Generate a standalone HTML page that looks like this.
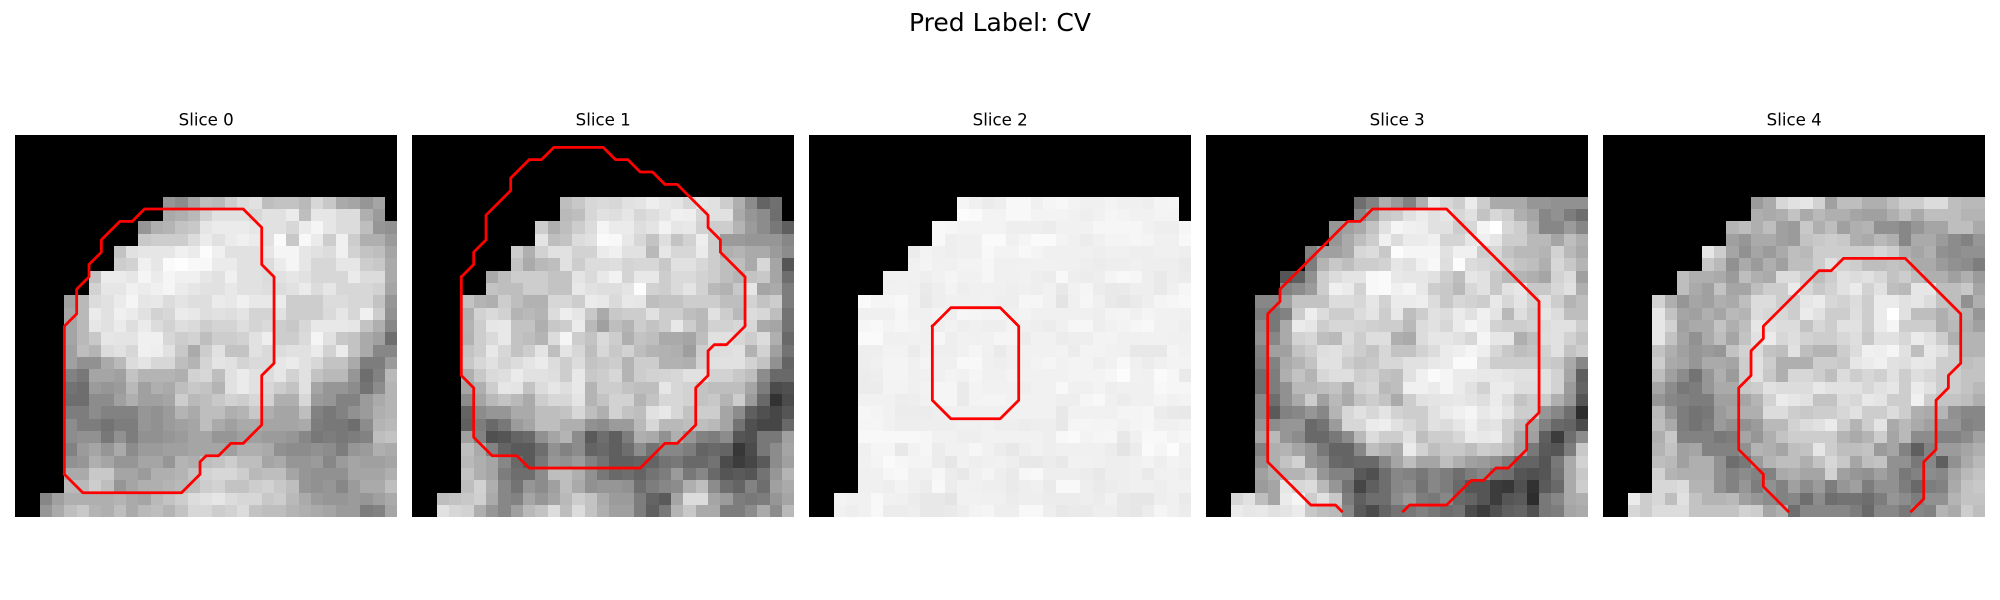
<!DOCTYPE html>
<html lang="en">
<head>
<meta charset="utf-8">
<title>Pred Label: CV</title>
<style>
html,body{margin:0;padding:0;background:#fff;width:2000px;height:600px;overflow:hidden}
svg{display:block}
text{font-family:"DejaVu Sans","Liberation Sans",sans-serif;fill:#000}
</style>
</head>
<body>
<svg id="figure" width="2000" height="600" viewBox="0 0 2000 600" xmlns="http://www.w3.org/2000/svg">
<rect x="0" y="0" width="2000" height="600" fill="#fff"/>
<text x="1000" y="31" font-size="25" text-anchor="middle">Pred Label: CV</text>
</svg>
<script>
// Each slice: rows of grey levels (0-255), aligned to the bottom-right corner of the 31x31 grid.
// Missing cells stay black; a 0 is a black cell.
const slice0 = [
[150,140,165,190,185,205,220,225,190,195,195,185,215,200,170,165,150,165,0],
[170,175,185,210,225,225,225,215,225,225,235,190,230,230,220,220,175,155,0],
[150,175,180,195,200,230,235,235,235,230,225,225,215,235,245,230,220,220,190,150,145],
[200,205,205,205,220,235,225,235,240,235,225,250,200,248,235,205,240,205,175,175,155],
[195,225,230,230,230,240,235,252,240,225,225,225,230,245,245,230,225,220,240,210,195,190,165],
[205,210,240,230,250,253,248,248,235,235,225,225,220,235,245,230,215,215,230,230,205,200,170],
[195,235,235,230,245,235,245,240,240,230,225,240,225,225,220,225,230,225,215,215,215,235,220,220,170],
[210,230,230,240,235,240,245,235,230,225,225,232,225,225,222,220,225,235,220,230,215,215,215,210,165],
[160,185,220,225,235,245,230,232,220,228,222,222,235,232,240,232,232,235,205,205,205,220,220,215,215,195,150],
[165,185,235,225,240,235,225,210,215,235,232,222,225,222,228,212,212,225,205,205,205,218,230,215,240,205,145],
[165,185,230,225,235,222,235,220,210,222,218,205,212,212,222,212,218,205,200,215,232,232,232,230,195,175,135],
[165,185,200,230,228,228,240,240,215,205,210,190,205,205,210,225,238,205,205,218,245,225,200,195,170,160,110],
[160,190,180,220,225,215,240,238,225,200,170,205,225,195,195,225,218,220,225,225,235,210,235,195,170,135,135],
[160,145,145,170,185,220,228,215,215,190,180,212,228,225,212,218,218,230,235,225,215,195,195,170,125,125,155],
[130,120,165,165,160,195,180,180,180,175,210,215,190,225,235,225,220,230,210,225,195,185,185,150,110,130,185],
[115,110,155,150,155,185,160,175,170,190,200,195,180,225,235,225,215,205,195,225,165,150,150,140,115,140,180],
[110,110,140,140,160,175,160,160,165,205,185,190,200,210,205,215,210,175,175,215,155,150,130,130,155,170,180],
[125,125,140,130,130,130,150,145,155,180,170,190,190,175,180,200,175,165,165,190,130,120,130,145,155,175,180],
[140,125,125,115,125,125,150,145,155,160,165,190,170,160,170,170,165,165,165,170,125,120,120,110,140,180,185],
[140,145,145,120,145,125,145,145,150,155,165,165,150,150,160,160,155,155,150,135,120,125,120,125,130,190,195],
[130,155,165,150,170,140,155,155,160,160,165,165,165,160,175,175,170,145,140,140,145,140,125,150,155,175,170],
[145,150,175,165,150,150,165,165,150,180,175,190,195,205,190,190,165,170,150,150,155,135,155,165,160,160,165],
[170,170,200,200,165,165,155,175,175,180,195,210,215,215,205,185,190,190,165,150,145,145,145,165,165,165,175],
[185,185,205,190,150,165,175,175,180,185,190,205,210,195,195,205,210,200,190,150,145,150,135,155,170,170,190],
[135,160,175,175,175,175,180,170,165,185,195,205,220,225,230,220,215,215,200,205,185,170,155,150,150,155,150,160,170],
[150,170,190,200,180,175,190,170,185,190,180,195,215,215,205,210,220,195,190,190,180,175,170,165,155,155,125,130,165]
];
const slice1 = [
[190,200,215,218,215,225,228,238,232,228,215,228,225,205,175,140,100,112,0],
[185,190,215,225,222,230,215,222,230,240,238,215,225,225,170,150,140,110,0],
[205,175,190,205,220,245,235,235,222,228,242,230,232,210,205,205,180,155,140,120,95],
[228,190,195,220,225,250,248,232,215,195,222,195,210,238,205,155,155,150,150,150,135],
[205,175,210,225,225,210,210,235,240,225,225,185,230,215,215,235,205,175,180,170,170,155,140],
[195,170,185,190,225,205,220,220,222,212,215,215,200,225,225,215,205,190,190,170,215,165,85],
[170,190,205,205,205,195,195,228,218,232,242,212,232,232,205,218,218,210,205,190,180,195,200,165,110],
[195,190,190,205,205,195,195,232,225,222,222,228,252,210,205,218,228,210,185,178,200,230,165,170,125],
[195,180,175,205,190,178,178,215,215,205,235,232,218,232,230,190,195,195,205,205,205,190,190,210,195,205,125],
[175,210,218,210,180,185,180,220,238,230,200,170,200,205,205,225,205,205,190,185,225,205,185,220,215,190,115],
[180,205,230,232,195,195,175,200,205,235,185,160,190,180,205,195,205,232,205,185,210,210,215,215,170,165,115],
[178,205,218,232,195,190,180,220,245,205,195,218,205,175,195,190,170,170,165,190,225,225,215,205,220,175,105],
[195,205,232,215,195,205,228,190,228,215,190,215,200,210,190,180,178,175,158,205,220,222,225,178,210,160,115],
[200,215,225,212,220,228,235,220,205,220,195,200,205,180,205,205,178,178,175,210,225,225,225,210,195,145,100],
[175,200,218,222,235,225,225,222,205,232,200,205,215,180,205,210,212,215,225,225,210,210,200,190,140,105,105],
[165,175,205,230,228,195,220,230,222,232,180,205,205,195,190,190,230,215,210,195,190,190,190,165,125,75,80],
[140,165,185,195,185,170,205,215,215,228,180,195,210,210,180,195,215,215,210,195,200,180,205,155,105,50,75],
[100,140,150,150,170,170,190,190,195,215,190,175,210,195,190,225,232,215,195,205,205,165,140,95,80,70,85],
[95,125,105,120,155,165,190,190,175,175,145,140,155,155,185,215,185,185,190,190,185,165,115,80,70,70,105],
[160,130,80,85,100,105,145,165,180,140,90,110,95,125,175,170,145,175,150,130,125,140,85,80,120,120,160],
[190,170,130,100,90,90,110,145,130,140,100,105,95,110,140,115,135,135,125,100,105,100,55,75,120,140,165],
[185,175,165,135,105,90,120,150,145,155,130,115,95,95,100,100,115,120,105,105,115,75,60,70,90,140,160],
[195,175,165,125,110,110,140,190,190,175,145,120,105,110,100,115,125,155,120,135,105,85,90,85,115,150,180],
[190,210,175,135,115,150,140,160,190,170,145,150,150,145,110,125,135,140,175,190,140,110,100,130,110,160,170],
[190,195,200,208,170,135,130,165,150,165,185,205,195,170,155,155,125,100,90,165,220,220,165,155,125,120,125,150,165],
[225,215,210,175,150,135,160,185,195,220,190,220,195,175,160,160,125,95,120,180,200,170,170,125,125,140,170,140,185]
];
const slice2 = [
[245,240,235,238,248,248,240,245,247,243,240,240,243,240,240,238,244,245,0],
[252,250,243,243,248,248,243,243,243,241,238,241,245,243,241,241,243,243,0],
[248,246,243,243,243,243,238,238,238,236,241,241,241,246,246,246,246,241,238,238,246],
[248,238,240,240,250,250,240,245,250,250,243,240,236,240,244,244,246,244,240,240,248],
[236,243,240,238,240,240,248,243,243,248,244,240,240,240,240,238,240,240,238,238,240,240,238],
[240,244,240,240,243,243,246,240,240,240,241,241,240,240,238,236,238,238,240,238,238,238,234],
[240,241,241,238,241,245,241,241,246,240,240,241,238,236,248,238,236,238,244,248,246,238,233,238,236],
[241,241,240,234,238,243,238,240,240,240,238,240,238,241,232,241,245,236,233,234,238,238,233,240,246],
[250,245,245,248,241,232,238,240,240,240,241,238,238,246,246,241,228,240,246,240,233,230,234,238,244,246,248],
[240,240,240,246,240,240,243,238,246,245,243,243,240,243,240,240,240,240,240,238,243,244,240,244,241,241,240],
[246,248,243,246,243,240,238,242,238,240,238,238,243,240,238,236,240,246,246,238,241,243,246,248,241,241,238],
[250,250,240,240,241,240,246,238,241,240,241,245,245,236,241,241,236,238,238,243,243,240,240,241,241,240,240],
[238,238,242,242,235,241,238,238,241,245,240,234,240,241,241,241,242,236,243,243,241,240,232,232,232,244,241],
[238,240,244,244,240,244,240,240,248,248,240,238,240,240,243,245,241,243,243,238,241,248,240,236,240,243,243],
[236,238,244,244,240,240,240,243,241,245,240,240,243,241,241,241,241,243,243,243,246,252,241,240,250,246,234],
[236,236,243,243,240,242,245,245,234,243,241,241,241,238,241,241,248,240,240,243,238,240,240,240,248,246,246],
[241,241,241,237,238,241,245,245,234,243,244,244,241,241,241,241,238,238,245,248,240,236,240,240,244,241,243],
[246,244,241,236,236,236,238,240,240,240,240,240,240,241,241,241,232,241,241,241,240,244,244,246,236,233,232],
[245,245,241,238,238,238,238,238,240,240,241,238,238,236,238,238,232,245,245,244,244,241,244,246,240,240,242],
[248,248,248,248,248,246,241,241,238,238,241,241,241,241,241,238,248,250,243,245,246,232,240,248,248,243,246],
[240,245,245,232,242,246,236,241,241,246,241,236,232,238,241,238,240,240,240,240,236,228,236,250,245,252,240],
[241,244,250,246,244,244,236,230,241,238,240,241,238,232,232,236,232,241,241,240,238,238,240,243,238,243,241],
[240,240,246,248,240,240,246,236,232,240,244,238,234,246,248,238,238,238,236,232,238,238,240,234,240,241,238],
[240,240,238,243,240,236,248,236,241,240,238,238,234,238,240,234,248,248,238,234,236,238,240,240,238,241,241],
[243,241,241,248,241,240,236,232,232,228,241,241,240,240,236,238,238,236,236,236,238,236,241,232,230,230,238,240,234],
[241,238,241,248,236,236,238,232,232,234,238,243,245,238,238,248,248,238,232,234,234,238,238,232,230,236,245,240,236]
];
const slice3 = [
[110,130,175,155,130,175,230,215,205,235,205,170,170,170,150,150,145,145,145],
[135,160,200,205,225,235,225,230,215,225,195,215,205,175,165,135,145,125,110],
[150,160,170,195,225,245,240,238,225,225,205,215,245,255,215,205,175,135,135,155,135],
[150,170,190,205,240,220,235,235,240,212,212,230,240,230,205,205,185,185,165,190,175],
[130,160,160,170,215,220,200,252,245,245,245,225,240,240,205,215,195,185,185,180,210,185,170],
[125,180,200,190,205,205,210,230,225,240,248,222,252,220,215,210,205,195,190,175,215,200,180],
[85,95,145,205,220,228,228,248,250,232,230,230,225,205,190,230,225,200,185,180,175,165,210,220,160],
[130,140,155,205,240,235,210,248,250,240,245,232,205,200,185,215,225,200,225,230,200,200,215,225,175],
[135,135,160,195,195,195,220,220,215,230,210,235,235,238,220,200,215,210,205,232,215,228,210,225,205,180,190],
[125,120,130,205,238,220,205,205,220,228,205,232,190,205,225,220,235,225,240,228,185,222,205,230,220,190,190],
[140,120,170,235,230,205,215,215,212,208,205,205,185,220,225,215,235,245,238,210,205,205,210,220,225,225,205],
[145,135,170,210,215,190,185,220,205,222,222,175,170,220,230,230,225,215,245,230,230,175,190,222,225,210,195],
[130,160,160,195,205,222,225,215,205,195,215,195,195,210,220,235,238,245,238,215,200,190,195,210,225,195,205],
[125,130,170,180,195,225,225,205,195,200,215,215,225,225,232,235,250,250,225,205,205,205,205,205,200,170,135],
[110,125,175,195,180,215,222,222,205,210,195,190,225,240,250,245,235,235,232,232,228,225,225,225,210,165,95],
[110,125,145,185,185,190,195,175,210,215,185,190,240,240,235,245,235,225,210,235,235,222,222,225,210,155,100],
[135,110,145,170,205,160,185,170,195,205,195,170,205,225,228,230,232,228,222,235,220,195,205,205,175,150,85],
[135,90,130,135,150,135,180,215,225,215,228,210,205,205,225,235,240,245,232,238,228,205,205,150,135,110,45],
[150,140,150,150,105,115,155,215,215,235,238,225,215,205,225,220,230,240,225,228,205,190,165,130,105,100,75],
[165,185,150,140,105,105,120,140,185,220,205,205,225,190,205,205,215,235,232,235,205,170,160,95,60,110,140],
[130,175,180,165,150,120,100,100,135,190,180,170,235,210,190,200,200,190,205,200,190,165,120,90,85,125,200],
[145,175,195,210,150,140,105,100,105,105,135,165,190,165,165,190,175,160,155,145,125,100,100,85,120,170,210],
[160,175,180,180,195,150,130,130,90,80,110,135,130,120,135,125,110,125,135,115,110,85,80,85,115,170,200],
[155,165,230,215,220,185,150,115,70,95,110,135,140,115,135,125,105,85,85,60,55,80,50,90,105,170,205],
[215,225,190,165,235,245,205,225,200,125,95,110,110,140,155,125,120,135,105,100,85,60,85,90,45,120,135,170,175],
[235,230,232,225,228,235,200,190,185,135,90,75,100,115,120,130,120,110,115,75,60,80,95,100,80,120,125,165,170]
];
const slice4 = [
[155,170,215,225,230,210,160,190,190,175,175,190,205,205,220,220,190,185,185],
[175,170,175,195,170,185,175,175,165,160,160,175,190,170,190,190,190,180,180],
[180,190,175,190,160,155,200,175,190,160,175,180,145,145,135,150,165,165,190,190,170],
[160,150,170,170,160,155,195,200,205,200,175,170,185,175,135,170,170,155,140,130,150],
[230,205,165,145,165,155,170,190,185,205,205,205,205,205,215,205,175,165,175,145,140,145,145],
[200,185,145,170,155,175,160,190,190,205,225,210,205,190,190,195,190,170,170,155,145,140,125],
[190,175,175,170,155,190,175,170,220,220,205,190,205,225,220,225,215,195,205,190,175,175,160,175,155],
[190,170,160,195,165,165,190,205,205,235,215,200,210,225,235,210,225,190,185,230,230,190,190,200,165],
[210,175,150,165,160,175,170,190,220,220,205,205,230,235,215,210,220,205,235,235,225,230,220,195,190,145,175],
[230,195,165,160,175,165,185,180,220,215,215,205,235,225,205,205,222,205,235,255,225,190,190,175,190,180,150],
[230,210,160,170,170,195,175,190,230,225,220,220,195,215,205,225,225,205,235,245,205,205,205,175,185,175,160],
[230,195,165,145,170,190,165,195,225,235,215,222,210,205,205,215,222,200,225,225,215,235,225,205,175,180,180],
[195,175,160,150,155,150,195,210,220,195,190,225,190,180,180,205,220,240,238,245,225,190,232,225,205,180,180],
[205,170,165,150,170,170,165,205,225,205,175,175,175,205,205,200,230,235,240,225,222,232,230,205,205,190,195],
[190,160,140,115,150,175,155,205,225,200,175,215,215,205,190,220,205,215,208,225,205,222,215,205,205,195,195],
[165,140,120,125,150,170,170,200,205,225,220,220,220,232,225,225,225,215,225,230,205,235,225,205,205,195,185],
[150,135,130,125,125,160,160,165,180,210,235,230,225,195,195,220,215,232,228,205,205,240,205,195,195,190,175],
[185,150,125,115,120,155,165,175,175,220,220,205,200,205,205,215,225,205,205,220,205,175,170,180,145,135,135],
[190,170,125,115,125,155,145,145,155,185,185,210,220,225,235,205,180,205,228,170,185,170,160,150,150,130,135],
[175,200,130,130,130,120,125,165,150,175,195,205,205,205,205,180,170,180,205,165,185,140,140,130,130,140,160],
[180,195,160,165,130,130,130,145,180,175,165,190,195,230,205,190,190,195,155,165,130,95,130,155,155,165,175],
[190,185,160,175,175,145,110,120,155,180,190,190,175,195,215,200,165,190,195,145,145,120,135,95,145,170,185],
[210,180,175,175,175,145,130,140,130,130,170,175,165,165,210,160,150,145,160,145,120,130,140,135,165,185,195],
[215,215,220,180,180,145,130,150,125,145,130,160,140,155,125,150,160,125,145,145,125,105,125,130,170,195,200],
[235,205,215,190,225,195,180,180,185,160,150,140,130,135,110,140,110,115,115,110,125,150,140,125,145,145,180,195,195],
[215,205,220,220,220,195,195,195,195,210,205,165,175,110,135,135,135,135,125,105,135,135,120,135,130,180,170,205,190]
];
const sliceRows = [slice0, slice1, slice2, slice3, slice4];
const sliceTitles = ["Slice 0", "Slice 1", "Slice 2", "Slice 3", "Slice 4"];

// Segmentation contours in grid units (0-31 across each image).
const contour0X = [4,5.5,13.5,15,15,15.5,16.5,17.5,18.5,20,20,21,21,20,20,18.5,10.5,9.5,8.5,7,7,6,6,5,5,4,4];
const contour0Y = [27.5,29,29,27.5,26.5,26,26,25,25,23.5,19.5,18.5,11.5,10.5,7.5,6,6,7,7,8.5,9.5,10.5,11.5,12.5,14.5,15.5,27.5];
const contour1X = [4,5,5,6,6,8,8,9.5,10.5,11.5,15.5,16.5,17.5,18.5,19.5,20.5,21.5,24,24,25,25,27,27,25.5,24.5,24,24,23,23,21.5,20.5,18.5,9.5,8.5,6.5,5,5,4,4];
const contour1Y = [11.5,10.5,9.5,8.5,6.5,4.5,3.5,2,2,1,1,2,2,3,3,4,4,6.5,7.5,8.5,9.5,11.5,15.5,17,17,17.5,19.5,20.5,23.5,25,25,27,27,26,26,24.5,20.5,19.5,11.5];
const contour2X = [10,11.5,15.5,17,17,15.5,11.5,10,10];
const contour2Y = [15.5,14,14,15.5,21.5,23,23,21.5,15.5];
const contour3X = [11,10.5,8.5,5,5,6,6,11.5,12.5,13.5,19.5,27,27,26,26,24.5,23.5,22.5,21.5,19.5,16.5,16];
const contour3Y = [30.5,30,30,26.5,14.5,13.5,12.5,7,7,6,6,13.5,22.5,23.5,25.5,27,27,28,28,30,30,30.5];
const contour4X = [15,13,13,11,11,12,12,13,13,17.5,18.5,19.5,24.5,29,29,28,28,27,27,26,26,25];
const contour4Y = [30.5,28.5,27.5,25.5,20.5,19.5,17.5,16.5,15.5,11,11,10,10,14.5,18.5,19.5,20.5,21.5,25.5,26.5,29.5,30.5];
const contoursX = [contour0X, contour1X, contour2X, contour3X, contour4X];
const contoursY = [contour0Y, contour1Y, contour2Y, contour3Y, contour4Y];

const GRID = 31;
const AXIS_LEFT = 15, AXIS_STEP = 397, AXIS_TOP = 135, AXIS_SIZE = 382.4;
const NS = "http://www.w3.org/2000/svg";
const figure = document.getElementById("figure");

function xAxis(panel, u) { return AXIS_LEFT + panel * AXIS_STEP + u * AXIS_SIZE / GRID; }
function yAxis(v) { return AXIS_TOP + v * AXIS_SIZE / GRID; }
function grey(value) { return "rgb(" + value + "," + value + "," + value + ")"; }

sliceRows.forEach(function (rows, panel) {
  const group = document.createElementNS(NS, "g");
  
  
  figure.appendChild(group);

  const title = document.createElementNS(NS, "text");
  
  
  title.setAttribute("x", xAxis(panel, GRID / 2));
  title.setAttribute("y", 125.5);
  title.setAttribute("font-size", "16.67");
  title.setAttribute("text-anchor", "middle");
  title.textContent = sliceTitles[panel];
  group.appendChild(title);

  const x0 = Math.round(xAxis(panel, 0)), y0 = Math.round(yAxis(0));
  const backdrop = document.createElementNS(NS, "rect");
  
  
  backdrop.setAttribute("x", x0);
  backdrop.setAttribute("y", y0);
  backdrop.setAttribute("width", Math.round(xAxis(panel, GRID)) - x0);
  backdrop.setAttribute("height", Math.round(yAxis(GRID)) - y0);
  backdrop.setAttribute("fill", "#000");
  group.appendChild(backdrop);

  rows.forEach(function (row, r) {
    const rowIndex = GRID - rows.length + r;
    row.forEach(function (value, c) {
      const colIndex = GRID - row.length + c;
      const left = Math.round(xAxis(panel, colIndex));
      const right = Math.round(xAxis(panel, colIndex + 1));
      const top = Math.round(yAxis(rowIndex));
      const bottom = Math.round(yAxis(rowIndex + 1));
      const cell = document.createElementNS(NS, "rect");
      
      
      cell.setAttribute("x", left);
      cell.setAttribute("y", top);
      cell.setAttribute("width", right - left);
      cell.setAttribute("height", bottom - top);
      cell.setAttribute("fill", grey(value));
      group.appendChild(cell);
    });
  });

  const points = contoursX[panel].map(function (u, i) {
    return xAxis(panel, u).toFixed(2) + "," + yAxis(contoursY[panel][i]).toFixed(2);
  });
  const line = document.createElementNS(NS, "polyline");
  
  
  line.setAttribute("points", points.join(" "));
  line.setAttribute("fill", "none");
  line.setAttribute("stroke", "#ff0000");
  line.setAttribute("stroke-width", "2.78");
  line.setAttribute("stroke-linejoin", "round");
  line.setAttribute("stroke-linecap", "square");
  group.appendChild(line);
});
</script>
</body>
</html>
